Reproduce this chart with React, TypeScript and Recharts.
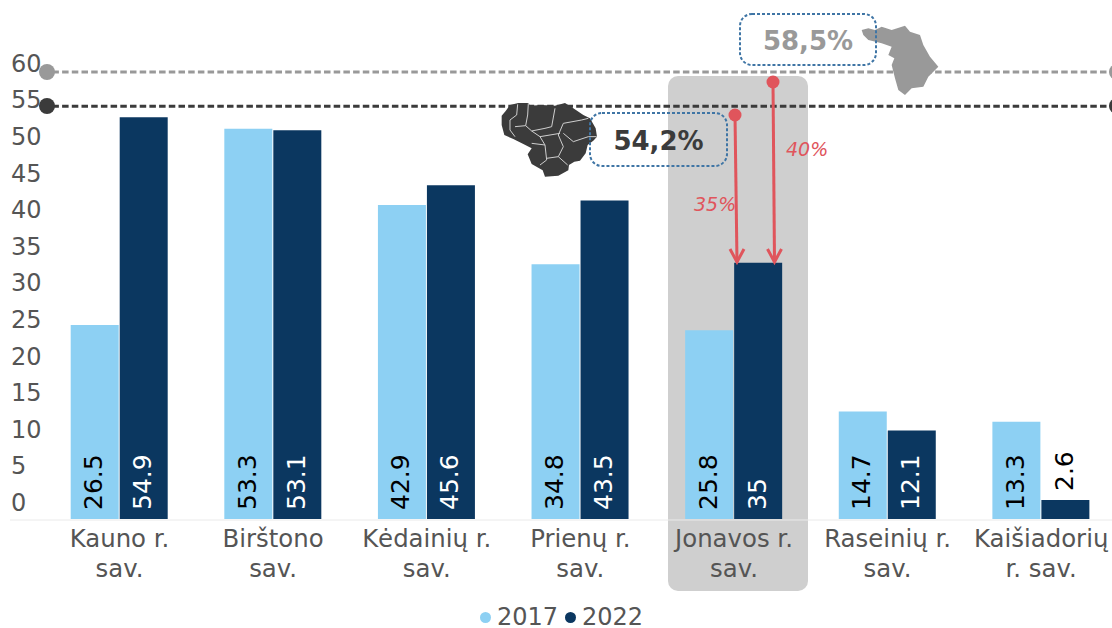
import { BarChart, Bar, XAxis, YAxis, ReferenceLine, LabelList, Legend } from "recharts";

const FONT = "'DejaVu Sans', sans-serif";

const categories = [
  "Kauno r.\nsav.",
  "Birštono\nsav.",
  "Kėdainių r.\nsav.",
  "Prienų r.\nsav.",
  "Jonavos r.\nsav.",
  "Raseinių r.\nsav.",
  "Kaišiadorių\nr. sav.",
];
const values2017 = [26.5, 53.3, 42.9, 34.8, 25.8, 14.7, 13.3];
const values2022 = [54.9, 53.1, 45.6, 43.5, 35, 12.1, 2.6];
const yTicks = [0, 5, 10, 15, 20, 25, 30, 35, 40, 45, 50, 55, 60];

// the average lines sit where they do in the picture, not at their printed value
const countyLine = 61.05;
const countryLine = 56.4;

const LIGHT = "#8DD0F3";
const DARK = "#0B3760";
const TICK = "#555555";
const RED = "#E0555C";
const GREY = "#999999";
const CHARCOAL = "#3B3B3B";
const BOX = "#3F75A5";

const data = categories.map((name, i) => ({
  name,
  y2017: values2017[i],
  y2022: values2022[i],
}));

const YTick = ({ y, payload }: any) => (
  <text x={11} y={y - 16} textAnchor="start" dominantBaseline="central" fontFamily={FONT} fontSize={24} fill={TICK}>
    {payload.value}
  </text>
);

const XTick = ({ x, y, payload }: any) => {
  const lines = String(payload.value).split("\n");
  return (
    <text textAnchor="middle" fontFamily={FONT} fontSize={24.4} fill={TICK}>
      {lines.map((line, i) => (
        <tspan key={line} x={x} y={y + 20 + i * 30}>
          {line}
        </tspan>
      ))}
    </text>
  );
};

const barLabel = (fill: string) => (props: any) => {
  const { x, y, width, height, value } = props;
  const cx = x + width / 2 - 1;
  const small = height < 30;
  const start = small ? y - 9 : y + height - 9;
  return (
    <text
      transform={`rotate(-90 ${cx} ${start})`}
      x={cx}
      y={start}
      textAnchor="start"
      dominantBaseline="central"
      fontFamily={FONT}
      fontSize={25}
      fill={small ? "#000000" : fill}
    >
      {value}
    </text>
  );
};

const LegendItem = ({ left, color, text }: { left: number; color: string; text: string }) => (
  <>
    <div style={{ position: "absolute", left: left - 5.5, top: 4.5, width: 11, height: 11, borderRadius: "50%", background: color }} />
    <div
      style={{
        position: "absolute",
        left: left + 12,
        top: 0,
        height: 20,
        lineHeight: "20px",
        fontFamily: FONT,
        fontSize: 24,
        color: TICK,
      }}
    >
      {text}
    </div>
  </>
);

const LegendRow = () => (
  <div style={{ position: "relative", width: 1112, height: 20 }}>
    <LegendItem left={485} color={LIGHT} text="2017" />
    <LegendItem left={570} color={DARK} text="2022" />
  </div>
);

const Arrow = ({ x1, y1, x2, y2 }: { x1: number; y1: number; x2: number; y2: number }) => (
  <g stroke={RED} fill="none" strokeWidth={3}>
    <line x1={x1} y1={y1} x2={x2} y2={y2} />
    <polyline points={`${x2 - 7},${y2 - 13} ${x2},${y2} ${x2 + 7},${y2 - 13}`} />
    <circle cx={x1} cy={y1} r={6.5} fill={RED} stroke="none" />
  </g>
);

// hand traced outline of Lithuania, in 3x zoom units
const LITHUANIA =
  "M20,62 L32,48 L45,30 L70,24 L100,24 L105,32 L140,30 L180,32 L210,24 L235,40 L265,60 L285,70 L302,100 L306,125 L295,137 L278,150 L272,175 L255,197 L238,200 L222,210 L220,226 L190,242 L150,245 L143,226 L110,207 L98,178 L110,160 L85,147 L55,132 L28,120 L20,90 Z";
const LITHUANIA_BORDERS = [
  "68,28 65,60 45,75 45,105 60,125",
  "100,25 98,60 92,92 60,95",
  "92,92 110,108 150,100 170,95 180,40",
  "110,108 135,125 195,115",
  "110,145 150,150",
  "135,125 150,150 155,195 135,210",
  "155,190 190,185 205,155 190,120 205,85 260,75 280,70",
  "205,115 235,140 280,125 305,125",
  "190,185 218,210",
];
const KAUNAS_COUNTY =
  "M20,45 L40,40 L60,45 L80,35 L110,45 L150,32 L165,50 L195,60 L205,90 L225,125 L250,155 L220,185 L205,215 L170,220 L150,240 L130,225 L120,190 L110,150 L118,130 L100,120 L110,95 L80,85 L40,75 L25,60 Z";

const Callout = ({ x, y, w, h, text, fill }: any) => (
  <g>
    <rect x={x} y={y} width={w} height={h} rx={12} fill="none" stroke={BOX} strokeWidth={2} strokeDasharray="3 2" />
    <text
      x={x + w / 2}
      y={y + h / 2 + 1}
      textAnchor="middle"
      dominantBaseline="central"
      fontFamily={FONT}
      fontWeight="bold"
      fontSize={26}
      fill={fill}
    >
      {text}
    </text>
  </g>
);

const App = () => {
  return (
    <div style={{ position: "absolute", left: 0, top: 0, width: 1112, height: 628, overflow: "hidden", background: "#fff" }}>
      <div
        style={{ position: "absolute", left: 668, top: 76, width: 140, height: 515, borderRadius: 10, background: "#CFCFCF" }}
      />
      <div style={{ position: "absolute", left: 0, top: 0 }}>
        <BarChart
          width={1130}
          height={628}
          data={data}
          barSize={48}
          barGap={1}
          margin={{ top: 43.2, right: 12, bottom: 0, left: 0 }}
        >
          <XAxis dataKey="name" height={109} axisLine={false} tickLine={false} interval={0} tick={<XTick />} />
          <YAxis width={42.7} domain={[0, 65]} ticks={yTicks} axisLine={false} tickLine={false} tick={<YTick />} />
          <ReferenceLine y={countyLine} stroke={GREY} strokeWidth={3} strokeDasharray="6.5 3.2" />
          <ReferenceLine y={countryLine} stroke={CHARCOAL} strokeWidth={3} strokeDasharray="6.5 3.2" />
          <Bar dataKey="y2017" name="2017" fill={LIGHT} isAnimationActive={false}>
            <LabelList dataKey="y2017" content={barLabel("#000000")} />
          </Bar>
          <Bar dataKey="y2022" name="2022" fill={DARK} isAnimationActive={false}>
            <LabelList dataKey="y2022" content={barLabel("#FFFFFF")} />
          </Bar>
          <Legend
            layout="horizontal"
            verticalAlign="middle"
            align="center"
            content={<LegendRow />}
            wrapperStyle={{ left: 0, top: 607, width: 1112, height: 20 }}
          />
        </BarChart>
      </div>
      <svg width={1112} height={628} style={{ position: "absolute", left: 0, top: 0, pointerEvents: "none" }}>
        <line x1={10} y1={520} x2={1112} y2={520} stroke="#EAEAEA" strokeWidth={1} />
        <circle cx={47} cy={72} r={8} fill={GREY} />
        <circle cx={47} cy={106} r={8} fill={CHARCOAL} />
        <circle cx={1117} cy={72} r={8} fill={GREY} />
        <circle cx={1117} cy={106} r={8} fill={CHARCOAL} />
        <g transform="translate(495 95) scale(0.3333)">
          <path d={LITHUANIA} fill={CHARCOAL} />
          {LITHUANIA_BORDERS.map((points) => (
            <polyline key={points} points={points} fill="none" stroke="#CFCFCF" strokeWidth={3} />
          ))}
        </g>
        <g transform="translate(855 15) scale(0.3333)">
          <path d={KAUNAS_COUNTY} fill={GREY} />
        </g>
        <Callout x={590} y={113} w={137} h={53} text="54,2%" fill={CHARCOAL} />
        <Callout x={740} y={14} w={136} h={51} text="58,5%" fill={GREY} />
        <Arrow x1={735} y1={115} x2={737} y2={262} />
        <Arrow x1={773} y1={82} x2={774.5} y2={262} />
        <text x={694} y={204} dominantBaseline="central" fontFamily={FONT} fontStyle="italic" fontSize={19} fill={RED}>
          35%
        </text>
        <text x={786} y={149} dominantBaseline="central" fontFamily={FONT} fontStyle="italic" fontSize={19} fill={RED}>
          40%
        </text>
      </svg>
    </div>
  );
};

export default App;
